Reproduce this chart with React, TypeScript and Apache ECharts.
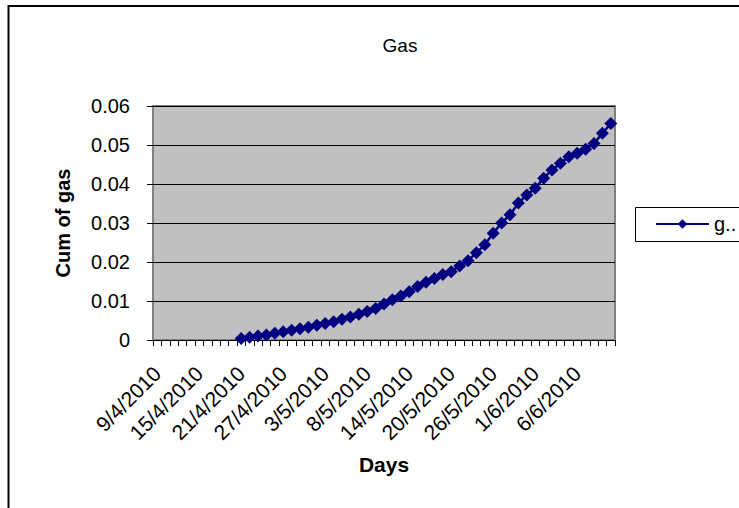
import React, { useEffect, useRef } from "react";
import * as echarts from "echarts";

// Sampling days (no readings on most Sundays)
const days: string[] = [
  "9/4/2010", "10/4/2010", "12/4/2010", "13/4/2010", "14/4/2010",
  "15/4/2010", "16/4/2010", "17/4/2010", "19/4/2010", "20/4/2010",
  "21/4/2010", "22/4/2010", "23/4/2010", "24/4/2010", "26/4/2010",
  "27/4/2010", "28/4/2010", "29/4/2010", "30/4/2010", "1/5/2010",
  "3/5/2010", "4/5/2010", "5/5/2010", "6/5/2010", "7/5/2010",
  "8/5/2010", "10/5/2010", "11/5/2010", "12/5/2010", "13/5/2010",
  "14/5/2010", "15/5/2010", "17/5/2010", "18/5/2010", "19/5/2010",
  "20/5/2010", "21/5/2010", "22/5/2010", "24/5/2010", "25/5/2010",
  "26/5/2010", "27/5/2010", "28/5/2010", "29/5/2010", "31/5/2010",
  "1/6/2010", "2/6/2010", "3/6/2010", "4/6/2010", "5/6/2010",
  "6/6/2010", "7/6/2010", "8/6/2010", "9/6/2010", "10/6/2010",
];

// Cumulative gas; no readings before 21/4/2010
const cumGas: (number | null)[] = [
  null, null, null, null, null, null, null, null, null, null,
  0.0004, 0.0007, 0.0010, 0.0013, 0.0017,
  0.0021, 0.0025, 0.0029, 0.0033, 0.0038,
  0.0042, 0.0047, 0.0053, 0.0059, 0.0066,
  0.0073, 0.0081, 0.0092, 0.0103, 0.0113,
  0.0124, 0.0137, 0.0148, 0.0158, 0.0168,
  0.0175, 0.0190, 0.0203, 0.0224, 0.0244,
  0.0274, 0.0300, 0.0321, 0.0351, 0.0372,
  0.0389, 0.0415, 0.0436, 0.0453, 0.0470,
  0.0479, 0.0489, 0.0504, 0.0530, 0.0555,
];

const FONT = "'Liberation Sans', Arial, sans-serif";

export default function App() {
  const ref = useRef<HTMLDivElement>(null);

  useEffect(() => {
    if (!ref.current) return;
    const chart = echarts.init(ref.current, undefined, { renderer: "svg" });
    chart.setOption({
      animation: false,
      backgroundColor: "#ffffff",
      title: {
        text: "Gas",
        left: 395,
        top: 31,
        textAlign: "center",
        textStyle: { fontFamily: FONT, fontSize: 19, fontWeight: "normal", color: "#000" },
      },
      graphic: [
        {
          type: "rect",
          shape: { x: 8.5, y: 6, width: 900, height: 700 },
          style: { fill: "none", stroke: "#000", lineWidth: 2 },
          silent: true,
        },
        {
          type: "rect",
          shape: { x: 635.5, y: 207.5, width: 200, height: 34 },
          style: { fill: "#fff", stroke: "#000", lineWidth: 1 },
          silent: true,
          z: 0,
        },
      ],
      legend: {
        left: 650,
        top: 209,
        itemWidth: 53,
        itemHeight: 12,
        itemGap: 5,
        z: 10,
        formatter: () => "g..",
        textStyle: { fontFamily: FONT, fontSize: 20, color: "#000" },
      },
      grid: {
        left: 153,
        right: 124,
        top: 106,
        bottom: 168,
        show: true,
        backgroundColor: "#C0C0C0",
        borderColor: "#808080",
        borderWidth: 2,
      },
      xAxis: {
        type: "category",
        data: days,
        boundaryGap: true,
        name: "Days",
        nameLocation: "middle",
        nameGap: 114,
        nameTextStyle: { fontFamily: FONT, fontSize: 21, fontWeight: "bold", color: "#000" },
        axisLine: { show: true, lineStyle: { color: "#000", width: 1 } },
        axisTick: { show: true, interval: 0, length: 6, lineStyle: { color: "#000" } },
        axisLabel: {
          interval: 4,
          rotate: 45,
          margin: 30,
          fontFamily: FONT,
          fontSize: 21,
          color: "#000",
        },
        splitLine: { show: false },
      },
      yAxis: {
        type: "value",
        min: 0,
        max: 0.06,
        interval: 0.01,
        name: "Cum of gas",
        nameLocation: "middle",
        nameGap: 80,
        nameTextStyle: { fontFamily: FONT, fontSize: 20, fontWeight: "bold", color: "#000" },
        axisLine: { show: false },
        axisTick: { show: true, length: 6, lineStyle: { color: "#000" } },
        axisLabel: {
          margin: 23,
          fontFamily: FONT,
          fontSize: 20,
          color: "#000",
          formatter: (v: number) => (v === 0 ? "0" : v.toFixed(2)),
        },
        splitLine: { show: true, lineStyle: { color: "#000", width: 1 } },
      },
      series: [
        {
          name: "gas",
          type: "line",
          data: cumGas,
          symbol: "diamond",
          symbolSize: 13,
          showSymbol: true,
          showAllSymbol: true,
          itemStyle: { color: "#000080" },
          lineStyle: { color: "#000080", width: 2.5 },
          connectNulls: false,
        },
      ],
    });
    return () => chart.dispose();
  }, []);

  return (
    <div
      ref={ref}
      style={{ position: "absolute", left: 0, top: 0, width: 739, height: 508 }}
    />
  );
}
